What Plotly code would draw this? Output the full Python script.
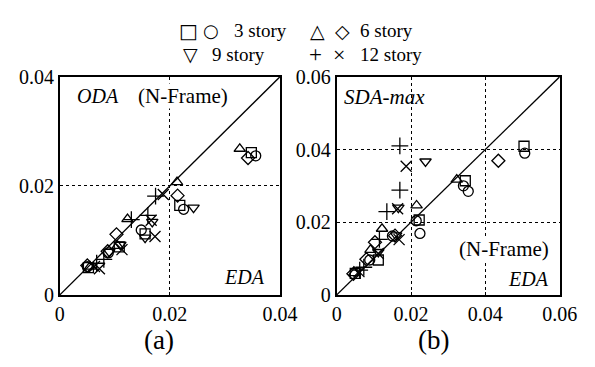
import plotly.graph_objects as go

# ---- data: left panel, ODA vs EDA (N-Frame) ----
oda_3s_sq_x = [0.0348, 0.0218, 0.0155, 0.0108, 0.0052]
oda_3s_sq_y = [0.0261, 0.0164, 0.0112, 0.0088, 0.0050]
oda_3s_ci_x = [0.0356, 0.0225, 0.0148, 0.0088, 0.0050]
oda_3s_ci_y = [0.0255, 0.0157, 0.0119, 0.0077, 0.0052]
oda_6s_tr_x = [0.0327, 0.0213, 0.0123, 0.0105, 0.0055]
oda_6s_tr_y = [0.0268, 0.0207, 0.0139, 0.0090, 0.0052]
oda_6s_di_x = [0.0342, 0.0214, 0.0103, 0.0087, 0.0050]
oda_6s_di_y = [0.0251, 0.0182, 0.0111, 0.0080, 0.0054]
oda_9s_x = [0.0243, 0.0168, 0.0155, 0.0110, 0.0090]
oda_9s_y = [0.0160, 0.0134, 0.0105, 0.0092, 0.0079]
oda_12s_pl_x = [0.0174, 0.0160, 0.0130, 0.0080, 0.0067]
oda_12s_pl_y = [0.0181, 0.0146, 0.0138, 0.0065, 0.0058]
oda_12s_x_x = [0.0188, 0.0166, 0.0173, 0.0113, 0.0072, 0.0063]
oda_12s_x_y = [0.0184, 0.0137, 0.0107, 0.0083, 0.0048, 0.0052]

# ---- data: right panel, SDA-max vs EDA (N-Frame) ----
sda_3s_sq_x = [0.0504, 0.0346, 0.0222, 0.0112, 0.0050]
sda_3s_sq_y = [0.0409, 0.0314, 0.0206, 0.0096, 0.0059]
sda_3s_ci_x = [0.0506, 0.0341, 0.0354, 0.0214, 0.0224, 0.0150, 0.0089]
sda_3s_ci_y = [0.0390, 0.0300, 0.0285, 0.0204, 0.0169, 0.0162, 0.0096]
sda_6s_tr_x = [0.0323, 0.0215, 0.0122, 0.0091, 0.0047]
sda_6s_tr_y = [0.0317, 0.0246, 0.0182, 0.0124, 0.0060]
sda_6s_di_x = [0.0435, 0.0157, 0.0103, 0.0080, 0.0045]
sda_6s_di_y = [0.0369, 0.0163, 0.0145, 0.0098, 0.0058]
sda_9s_x = [0.0239, 0.0166, 0.0160, 0.0112]
sda_9s_y = [0.0367, 0.0240, 0.0164, 0.0118]
sda_12s_pl_x = [0.0170, 0.0170, 0.0135, 0.0115, 0.0073, 0.0062]
sda_12s_pl_y = [0.0410, 0.0288, 0.0229, 0.0153, 0.0076, 0.0068]
sda_12s_x_x = [0.0187, 0.0164, 0.0168, 0.0112, 0.0060]
sda_12s_x_y = [0.0354, 0.0237, 0.0152, 0.0114, 0.0064]

left_max = 0.04
right_max = 0.06
left_ticks = [0, 0.02, 0.04]
left_labels = ["0", "0.02", "0.04"]
right_ticks = [0, 0.02, 0.04, 0.06]
right_labels = ["0", "0.02", "0.04", "0.06"]

SERIF = "Liberation Serif"
W, H = 595, 367

fig = go.Figure()

symbols = {
    "sq": "square-open", "ci": "circle-open", "tr": "triangle-up-open",
    "di": "diamond-open", "td": "triangle-down-open",
    "pl": "cross-thin-open", "x": "x-thin-open",
}


def add(xs, ys, sym, ax, size=10):
    fig.add_trace(go.Scatter(
        x=xs, y=ys, mode="markers", xaxis="x" + ax, yaxis="y" + ax,
        marker=dict(symbol=symbols[sym], size=size, color="black",
                    line=dict(color="black", width=1.3)),
        showlegend=False, hoverinfo="skip"))


# y = x reference lines
for ax, mx in (("", left_max), ("2", right_max)):
    fig.add_trace(go.Scatter(x=[0, mx], y=[0, mx], mode="lines",
                             xaxis="x" + ax, yaxis="y" + ax,
                             line=dict(color="black", width=1.3),
                             showlegend=False, hoverinfo="skip"))

add(oda_3s_sq_x, oda_3s_sq_y, "sq", "")
add(oda_3s_ci_x, oda_3s_ci_y, "ci", "")
add(oda_6s_tr_x, oda_6s_tr_y, "tr", "")
add(oda_6s_di_x, oda_6s_di_y, "di", "")
add(oda_9s_x, oda_9s_y, "td", "")
add(oda_12s_pl_x, oda_12s_pl_y, "pl", "", 12)
add(oda_12s_x_x, oda_12s_x_y, "x", "", 11)

add(sda_3s_sq_x, sda_3s_sq_y, "sq", "2")
add(sda_3s_ci_x, sda_3s_ci_y, "ci", "2")
add(sda_6s_tr_x, sda_6s_tr_y, "tr", "2")
add(sda_6s_di_x, sda_6s_di_y, "di", "2")
add(sda_9s_x, sda_9s_y, "td", "2")
add(sda_12s_pl_x, sda_12s_pl_y, "pl", "2", 12)
add(sda_12s_x_x, sda_12s_x_y, "x", "2", 11)


def axis(domain, mx, ticks, labels, anchor):
    return dict(domain=domain, range=[0, mx], tickvals=ticks, ticktext=labels,
                showline=True, mirror=True, linecolor="black", linewidth=1.8,
                showgrid=True, gridcolor="black", griddash="dot", gridwidth=1,
                zeroline=False, ticks="inside", ticklen=3, tickcolor="black",
                tickfont=dict(family=SERIF, size=20, color="black"),
                anchor=anchor, fixedrange=True)


ytop = 1 - 70 / H
ybot = 1 - 302 / H
fig.update_layout(
    width=W, height=H, margin=dict(l=0, r=0, t=0, b=0),
    paper_bgcolor="white", plot_bgcolor="white",
    xaxis=axis([57 / W, 286 / W], left_max, left_ticks, left_labels, "y"),
    yaxis=axis([ybot, ytop], left_max, left_ticks, left_labels, "x"),
    xaxis2=axis([345 / W, 577 / W], right_max, right_ticks, right_labels, "y2"),
    yaxis2=axis([ybot, ytop], right_max, right_ticks, right_labels, "x2"),
)


def note(text, x, y, size=20, italic=False, xanchor="center", bg=None,
         family=SERIF):
    fig.add_annotation(text=text, x=x / W, y=1 - y / H, xref="paper", yref="paper",
                       showarrow=False, xanchor=xanchor, yanchor="middle",
                       font=dict(family=family, size=size, color="black",
                                 style="italic" if italic else "normal"),
                       bgcolor=bg, borderpad=0)


# panel labels
note("ODA", 74, 90, italic=True, xanchor="left")
note("(N-Frame)", 185, 90, size=21, bg="white")
note("EDA", 271, 283, italic=True, xanchor="right", bg="white")
note("SDA-max", 352, 92, size=21, italic=True, xanchor="left")
note("(N-Frame)", 567, 253, size=21, xanchor="right", bg="white")
note("EDA", 567, 285, italic=True, xanchor="right", bg="white")
note("(a)", 160, 350, size=27)
note("(b)", 446, 350, size=27)

# key
GLYPH = "DejaVu Sans"
note("\u25a1", 191, 21, size=20, family=GLYPH)
note("\u25cb", 214, 21, size=18, family=GLYPH)
note("3 story", 237, 21, size=19, xanchor="left")
note("\u25b3", 325, 21, size=19, family=GLYPH)
note("\u25c7", 351, 21, size=19, family=GLYPH)
note("6 story", 368, 21, size=19, xanchor="left")
note("\u25bd", 193, 46, size=19, family=GLYPH)
note("9 story", 214, 46, size=19, xanchor="left")
note("+", 323, 46, size=23, family=SERIF)
note("\u00d7", 347, 46, size=22, family=SERIF)
note("12 story", 368, 46, size=19, xanchor="left")

fig.write_html("out.html")
